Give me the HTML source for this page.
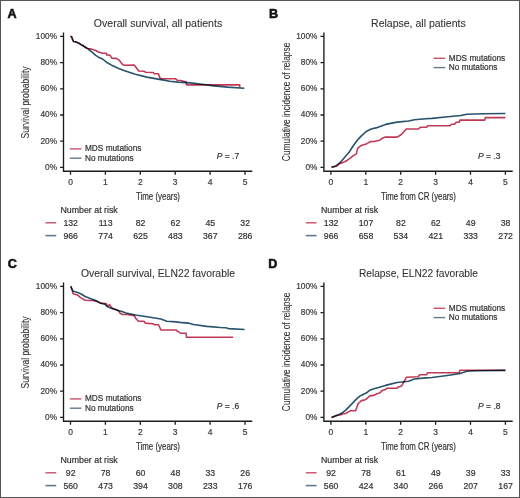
<!DOCTYPE html>
<html><head><meta charset="utf-8"><style>
html,body{margin:0;padding:0;background:#fff;}
svg{display:block;font-family:"Liberation Sans", sans-serif;}

</style></head><body>
<svg width="520" height="498" viewBox="0 0 520 498">
<rect x="0" y="0" width="520" height="498" fill="#fff"/>
<g transform="translate(0,0)">
<text x="7.6" y="17.9" font-size="12.6" font-weight="bold" fill="#111" stroke="#111" stroke-width="0.55">A</text>
<text x="158.00" y="27.10" font-size="10.5" text-anchor="middle" textLength="128.40" lengthAdjust="spacingAndGlyphs" fill="#333" stroke="#333" stroke-width="0.08">Overall survival, all patients</text>
<path d="M63.5 32.6 V171.2 H252.3" fill="none" stroke="#1c1c1c" stroke-width="1.35"/>
<path d="M60.10 167.40H63.5M70.50 171.2V174.80M60.10 141.20H63.5M105.40 171.2V174.80M60.10 115.00H63.5M140.30 171.2V174.80M60.10 88.80H63.5M175.20 171.2V174.80M60.10 62.60H63.5M210.10 171.2V174.80M60.10 36.40H63.5M245.00 171.2V174.80" stroke="#1c1c1c" stroke-width="1.3" fill="none"/>
<text x="57.00" y="169.75" font-size="8.9" text-anchor="end" textLength="11.96" lengthAdjust="spacingAndGlyphs" fill="#3a3a3a" stroke="#3a3a3a" stroke-width="0.2">0%</text>
<text x="57.00" y="143.55" font-size="8.9" text-anchor="end" textLength="16.57" lengthAdjust="spacingAndGlyphs" fill="#3a3a3a" stroke="#3a3a3a" stroke-width="0.2">20%</text>
<text x="57.00" y="117.35" font-size="8.9" text-anchor="end" textLength="16.57" lengthAdjust="spacingAndGlyphs" fill="#3a3a3a" stroke="#3a3a3a" stroke-width="0.2">40%</text>
<text x="57.00" y="91.15" font-size="8.9" text-anchor="end" textLength="16.57" lengthAdjust="spacingAndGlyphs" fill="#3a3a3a" stroke="#3a3a3a" stroke-width="0.2">60%</text>
<text x="57.00" y="64.95" font-size="8.9" text-anchor="end" textLength="16.57" lengthAdjust="spacingAndGlyphs" fill="#3a3a3a" stroke="#3a3a3a" stroke-width="0.2">80%</text>
<text x="57.00" y="38.75" font-size="8.9" text-anchor="end" textLength="21.17" lengthAdjust="spacingAndGlyphs" fill="#3a3a3a" stroke="#3a3a3a" stroke-width="0.2">100%</text>
<text x="70.50" y="185.30" font-size="8.9" text-anchor="middle" textLength="4.70" lengthAdjust="spacingAndGlyphs" fill="#3a3a3a" stroke="#3a3a3a" stroke-width="0.2">0</text>
<text x="105.40" y="185.30" font-size="8.9" text-anchor="middle" textLength="4.70" lengthAdjust="spacingAndGlyphs" fill="#3a3a3a" stroke="#3a3a3a" stroke-width="0.2">1</text>
<text x="140.30" y="185.30" font-size="8.9" text-anchor="middle" textLength="4.70" lengthAdjust="spacingAndGlyphs" fill="#3a3a3a" stroke="#3a3a3a" stroke-width="0.2">2</text>
<text x="175.20" y="185.30" font-size="8.9" text-anchor="middle" textLength="4.70" lengthAdjust="spacingAndGlyphs" fill="#3a3a3a" stroke="#3a3a3a" stroke-width="0.2">3</text>
<text x="210.10" y="185.30" font-size="8.9" text-anchor="middle" textLength="4.70" lengthAdjust="spacingAndGlyphs" fill="#3a3a3a" stroke="#3a3a3a" stroke-width="0.2">4</text>
<text x="245.00" y="185.30" font-size="8.9" text-anchor="middle" textLength="4.70" lengthAdjust="spacingAndGlyphs" fill="#3a3a3a" stroke="#3a3a3a" stroke-width="0.2">5</text>
<text transform="translate(29.3,102.4) rotate(-90)" x="0" y="0" font-size="11" text-anchor="middle" textLength="72" lengthAdjust="spacingAndGlyphs" fill="#333" stroke="#333" stroke-width="0.1">Survival probability</text>
<text x="158.00" y="199.80" font-size="10.5" text-anchor="middle" textLength="44.00" lengthAdjust="spacingAndGlyphs" fill="#333" stroke="#333" stroke-width="0.2">Time (years)</text>
<path d="M69.80 148.90h11.6" stroke="#c8506a" stroke-width="1.4"/>
<path d="M69.80 158.20h11.6" stroke="#627a92" stroke-width="1.4"/>
<text x="85.00" y="151.20" font-size="8.3" textLength="56.40" lengthAdjust="spacingAndGlyphs" fill="#333" stroke="#333" stroke-width="0.2">MDS mutations</text>
<text x="85.00" y="160.50" font-size="8.3" textLength="48.60" lengthAdjust="spacingAndGlyphs" fill="#333" stroke="#333" stroke-width="0.2">No mutations</text>
<text x="216.70" y="158.70" font-size="9.4" fill="#333" stroke="#333" stroke-width="0.2" textLength="22.5" lengthAdjust="spacingAndGlyphs"><tspan font-style="italic">P</tspan> = .7</text>
<text x="60.50" y="213.20" font-size="8.6" textLength="57.20" lengthAdjust="spacingAndGlyphs" fill="#333" stroke="#333" stroke-width="0.2">Number at risk</text>
<path d="M45.4 222.8h10.8" stroke="#c8506a" stroke-width="1.4"/>
<path d="M45.4 235.6h10.8" stroke="#627a92" stroke-width="1.6"/>
<text x="70.70" y="225.80" font-size="9.0" text-anchor="middle" textLength="14.56" lengthAdjust="spacingAndGlyphs" fill="#333" stroke="#333" stroke-width="0.2">132</text>
<text x="105.60" y="225.80" font-size="9.0" text-anchor="middle" textLength="13.92" lengthAdjust="spacingAndGlyphs" fill="#333" stroke="#333" stroke-width="0.2">113</text>
<text x="140.50" y="225.80" font-size="9.0" text-anchor="middle" textLength="9.71" lengthAdjust="spacingAndGlyphs" fill="#333" stroke="#333" stroke-width="0.2">82</text>
<text x="175.40" y="225.80" font-size="9.0" text-anchor="middle" textLength="9.71" lengthAdjust="spacingAndGlyphs" fill="#333" stroke="#333" stroke-width="0.2">62</text>
<text x="210.30" y="225.80" font-size="9.0" text-anchor="middle" textLength="9.71" lengthAdjust="spacingAndGlyphs" fill="#333" stroke="#333" stroke-width="0.2">45</text>
<text x="245.20" y="225.80" font-size="9.0" text-anchor="middle" textLength="9.71" lengthAdjust="spacingAndGlyphs" fill="#333" stroke="#333" stroke-width="0.2">32</text>
<text x="70.70" y="238.50" font-size="9.0" text-anchor="middle" textLength="14.56" lengthAdjust="spacingAndGlyphs" fill="#333" stroke="#333" stroke-width="0.2">966</text>
<text x="105.60" y="238.50" font-size="9.0" text-anchor="middle" textLength="14.56" lengthAdjust="spacingAndGlyphs" fill="#333" stroke="#333" stroke-width="0.2">774</text>
<text x="140.50" y="238.50" font-size="9.0" text-anchor="middle" textLength="14.56" lengthAdjust="spacingAndGlyphs" fill="#333" stroke="#333" stroke-width="0.2">625</text>
<text x="175.40" y="238.50" font-size="9.0" text-anchor="middle" textLength="14.56" lengthAdjust="spacingAndGlyphs" fill="#333" stroke="#333" stroke-width="0.2">483</text>
<text x="210.30" y="238.50" font-size="9.0" text-anchor="middle" textLength="14.56" lengthAdjust="spacingAndGlyphs" fill="#333" stroke="#333" stroke-width="0.2">367</text>
<text x="245.20" y="238.50" font-size="9.0" text-anchor="middle" textLength="14.56" lengthAdjust="spacingAndGlyphs" fill="#333" stroke="#333" stroke-width="0.2">286</text>
</g>
<g transform="translate(260.4,0)">
<text x="8.7" y="17.9" font-size="12.6" font-weight="bold" fill="#111" stroke="#111" stroke-width="0.55">B</text>
<text x="158.00" y="27.10" font-size="10.5" text-anchor="middle" textLength="94.70" lengthAdjust="spacingAndGlyphs" fill="#333" stroke="#333" stroke-width="0.08">Relapse, all patients</text>
<path d="M63.5 32.6 V171.2 H252.3" fill="none" stroke="#1c1c1c" stroke-width="1.35"/>
<path d="M60.10 167.40H63.5M70.50 171.2V174.80M60.10 141.20H63.5M105.40 171.2V174.80M60.10 115.00H63.5M140.30 171.2V174.80M60.10 88.80H63.5M175.20 171.2V174.80M60.10 62.60H63.5M210.10 171.2V174.80M60.10 36.40H63.5M245.00 171.2V174.80" stroke="#1c1c1c" stroke-width="1.3" fill="none"/>
<text x="57.00" y="169.75" font-size="8.9" text-anchor="end" textLength="11.96" lengthAdjust="spacingAndGlyphs" fill="#3a3a3a" stroke="#3a3a3a" stroke-width="0.2">0%</text>
<text x="57.00" y="143.55" font-size="8.9" text-anchor="end" textLength="16.57" lengthAdjust="spacingAndGlyphs" fill="#3a3a3a" stroke="#3a3a3a" stroke-width="0.2">20%</text>
<text x="57.00" y="117.35" font-size="8.9" text-anchor="end" textLength="16.57" lengthAdjust="spacingAndGlyphs" fill="#3a3a3a" stroke="#3a3a3a" stroke-width="0.2">40%</text>
<text x="57.00" y="91.15" font-size="8.9" text-anchor="end" textLength="16.57" lengthAdjust="spacingAndGlyphs" fill="#3a3a3a" stroke="#3a3a3a" stroke-width="0.2">60%</text>
<text x="57.00" y="64.95" font-size="8.9" text-anchor="end" textLength="16.57" lengthAdjust="spacingAndGlyphs" fill="#3a3a3a" stroke="#3a3a3a" stroke-width="0.2">80%</text>
<text x="57.00" y="38.75" font-size="8.9" text-anchor="end" textLength="21.17" lengthAdjust="spacingAndGlyphs" fill="#3a3a3a" stroke="#3a3a3a" stroke-width="0.2">100%</text>
<text x="70.50" y="185.30" font-size="8.9" text-anchor="middle" textLength="4.70" lengthAdjust="spacingAndGlyphs" fill="#3a3a3a" stroke="#3a3a3a" stroke-width="0.2">0</text>
<text x="105.40" y="185.30" font-size="8.9" text-anchor="middle" textLength="4.70" lengthAdjust="spacingAndGlyphs" fill="#3a3a3a" stroke="#3a3a3a" stroke-width="0.2">1</text>
<text x="140.30" y="185.30" font-size="8.9" text-anchor="middle" textLength="4.70" lengthAdjust="spacingAndGlyphs" fill="#3a3a3a" stroke="#3a3a3a" stroke-width="0.2">2</text>
<text x="175.20" y="185.30" font-size="8.9" text-anchor="middle" textLength="4.70" lengthAdjust="spacingAndGlyphs" fill="#3a3a3a" stroke="#3a3a3a" stroke-width="0.2">3</text>
<text x="210.10" y="185.30" font-size="8.9" text-anchor="middle" textLength="4.70" lengthAdjust="spacingAndGlyphs" fill="#3a3a3a" stroke="#3a3a3a" stroke-width="0.2">4</text>
<text x="245.00" y="185.30" font-size="8.9" text-anchor="middle" textLength="4.70" lengthAdjust="spacingAndGlyphs" fill="#3a3a3a" stroke="#3a3a3a" stroke-width="0.2">5</text>
<text transform="translate(29.4,101.9) rotate(-90)" x="0" y="0" font-size="11" text-anchor="middle" textLength="118.5" lengthAdjust="spacingAndGlyphs" fill="#333" stroke="#333" stroke-width="0.1">Cumulative incidence of relapse</text>
<text x="158.00" y="199.80" font-size="10.5" text-anchor="middle" textLength="75.00" lengthAdjust="spacingAndGlyphs" fill="#333" stroke="#333" stroke-width="0.2">Time from CR (years)</text>
<path d="M173.20 58.30h11.6" stroke="#c8506a" stroke-width="1.4"/>
<path d="M173.20 67.60h11.6" stroke="#627a92" stroke-width="1.4"/>
<text x="188.40" y="60.60" font-size="8.3" textLength="56.40" lengthAdjust="spacingAndGlyphs" fill="#333" stroke="#333" stroke-width="0.2">MDS mutations</text>
<text x="188.40" y="69.90" font-size="8.3" textLength="48.60" lengthAdjust="spacingAndGlyphs" fill="#333" stroke="#333" stroke-width="0.2">No mutations</text>
<text x="217.60" y="158.70" font-size="9.4" fill="#333" stroke="#333" stroke-width="0.2" textLength="22.5" lengthAdjust="spacingAndGlyphs"><tspan font-style="italic">P</tspan> = .3</text>
<text x="60.50" y="213.20" font-size="8.6" textLength="57.20" lengthAdjust="spacingAndGlyphs" fill="#333" stroke="#333" stroke-width="0.2">Number at risk</text>
<path d="M45.4 222.8h10.8" stroke="#c8506a" stroke-width="1.4"/>
<path d="M45.4 235.6h10.8" stroke="#627a92" stroke-width="1.6"/>
<text x="70.70" y="225.80" font-size="9.0" text-anchor="middle" textLength="14.56" lengthAdjust="spacingAndGlyphs" fill="#333" stroke="#333" stroke-width="0.2">132</text>
<text x="105.60" y="225.80" font-size="9.0" text-anchor="middle" textLength="14.56" lengthAdjust="spacingAndGlyphs" fill="#333" stroke="#333" stroke-width="0.2">107</text>
<text x="140.50" y="225.80" font-size="9.0" text-anchor="middle" textLength="9.71" lengthAdjust="spacingAndGlyphs" fill="#333" stroke="#333" stroke-width="0.2">82</text>
<text x="175.40" y="225.80" font-size="9.0" text-anchor="middle" textLength="9.71" lengthAdjust="spacingAndGlyphs" fill="#333" stroke="#333" stroke-width="0.2">62</text>
<text x="210.30" y="225.80" font-size="9.0" text-anchor="middle" textLength="9.71" lengthAdjust="spacingAndGlyphs" fill="#333" stroke="#333" stroke-width="0.2">49</text>
<text x="245.20" y="225.80" font-size="9.0" text-anchor="middle" textLength="9.71" lengthAdjust="spacingAndGlyphs" fill="#333" stroke="#333" stroke-width="0.2">38</text>
<text x="70.70" y="238.50" font-size="9.0" text-anchor="middle" textLength="14.56" lengthAdjust="spacingAndGlyphs" fill="#333" stroke="#333" stroke-width="0.2">966</text>
<text x="105.60" y="238.50" font-size="9.0" text-anchor="middle" textLength="14.56" lengthAdjust="spacingAndGlyphs" fill="#333" stroke="#333" stroke-width="0.2">658</text>
<text x="140.50" y="238.50" font-size="9.0" text-anchor="middle" textLength="14.56" lengthAdjust="spacingAndGlyphs" fill="#333" stroke="#333" stroke-width="0.2">534</text>
<text x="175.40" y="238.50" font-size="9.0" text-anchor="middle" textLength="14.56" lengthAdjust="spacingAndGlyphs" fill="#333" stroke="#333" stroke-width="0.2">421</text>
<text x="210.30" y="238.50" font-size="9.0" text-anchor="middle" textLength="14.56" lengthAdjust="spacingAndGlyphs" fill="#333" stroke="#333" stroke-width="0.2">333</text>
<text x="245.20" y="238.50" font-size="9.0" text-anchor="middle" textLength="14.56" lengthAdjust="spacingAndGlyphs" fill="#333" stroke="#333" stroke-width="0.2">272</text>
</g>
<g transform="translate(0,250)">
<text x="7.8" y="17.9" font-size="12.6" font-weight="bold" fill="#111" stroke="#111" stroke-width="0.55">C</text>
<text x="158.00" y="27.10" font-size="10.5" text-anchor="middle" textLength="154.00" lengthAdjust="spacingAndGlyphs" fill="#333" stroke="#333" stroke-width="0.08">Overall survival, ELN22 favorable</text>
<path d="M63.5 32.6 V171.2 H252.3" fill="none" stroke="#1c1c1c" stroke-width="1.35"/>
<path d="M60.10 167.40H63.5M70.50 171.2V174.80M60.10 141.20H63.5M105.40 171.2V174.80M60.10 115.00H63.5M140.30 171.2V174.80M60.10 88.80H63.5M175.20 171.2V174.80M60.10 62.60H63.5M210.10 171.2V174.80M60.10 36.40H63.5M245.00 171.2V174.80" stroke="#1c1c1c" stroke-width="1.3" fill="none"/>
<text x="57.00" y="169.75" font-size="8.9" text-anchor="end" textLength="11.96" lengthAdjust="spacingAndGlyphs" fill="#3a3a3a" stroke="#3a3a3a" stroke-width="0.2">0%</text>
<text x="57.00" y="143.55" font-size="8.9" text-anchor="end" textLength="16.57" lengthAdjust="spacingAndGlyphs" fill="#3a3a3a" stroke="#3a3a3a" stroke-width="0.2">20%</text>
<text x="57.00" y="117.35" font-size="8.9" text-anchor="end" textLength="16.57" lengthAdjust="spacingAndGlyphs" fill="#3a3a3a" stroke="#3a3a3a" stroke-width="0.2">40%</text>
<text x="57.00" y="91.15" font-size="8.9" text-anchor="end" textLength="16.57" lengthAdjust="spacingAndGlyphs" fill="#3a3a3a" stroke="#3a3a3a" stroke-width="0.2">60%</text>
<text x="57.00" y="64.95" font-size="8.9" text-anchor="end" textLength="16.57" lengthAdjust="spacingAndGlyphs" fill="#3a3a3a" stroke="#3a3a3a" stroke-width="0.2">80%</text>
<text x="57.00" y="38.75" font-size="8.9" text-anchor="end" textLength="21.17" lengthAdjust="spacingAndGlyphs" fill="#3a3a3a" stroke="#3a3a3a" stroke-width="0.2">100%</text>
<text x="70.50" y="185.30" font-size="8.9" text-anchor="middle" textLength="4.70" lengthAdjust="spacingAndGlyphs" fill="#3a3a3a" stroke="#3a3a3a" stroke-width="0.2">0</text>
<text x="105.40" y="185.30" font-size="8.9" text-anchor="middle" textLength="4.70" lengthAdjust="spacingAndGlyphs" fill="#3a3a3a" stroke="#3a3a3a" stroke-width="0.2">1</text>
<text x="140.30" y="185.30" font-size="8.9" text-anchor="middle" textLength="4.70" lengthAdjust="spacingAndGlyphs" fill="#3a3a3a" stroke="#3a3a3a" stroke-width="0.2">2</text>
<text x="175.20" y="185.30" font-size="8.9" text-anchor="middle" textLength="4.70" lengthAdjust="spacingAndGlyphs" fill="#3a3a3a" stroke="#3a3a3a" stroke-width="0.2">3</text>
<text x="210.10" y="185.30" font-size="8.9" text-anchor="middle" textLength="4.70" lengthAdjust="spacingAndGlyphs" fill="#3a3a3a" stroke="#3a3a3a" stroke-width="0.2">4</text>
<text x="245.00" y="185.30" font-size="8.9" text-anchor="middle" textLength="4.70" lengthAdjust="spacingAndGlyphs" fill="#3a3a3a" stroke="#3a3a3a" stroke-width="0.2">5</text>
<text transform="translate(29.3,102.4) rotate(-90)" x="0" y="0" font-size="11" text-anchor="middle" textLength="72" lengthAdjust="spacingAndGlyphs" fill="#333" stroke="#333" stroke-width="0.1">Survival probability</text>
<text x="158.00" y="199.80" font-size="10.5" text-anchor="middle" textLength="44.00" lengthAdjust="spacingAndGlyphs" fill="#333" stroke="#333" stroke-width="0.2">Time (years)</text>
<path d="M69.80 148.90h11.6" stroke="#c8506a" stroke-width="1.4"/>
<path d="M69.80 158.20h11.6" stroke="#627a92" stroke-width="1.4"/>
<text x="85.00" y="151.20" font-size="8.3" textLength="56.40" lengthAdjust="spacingAndGlyphs" fill="#333" stroke="#333" stroke-width="0.2">MDS mutations</text>
<text x="85.00" y="160.50" font-size="8.3" textLength="48.60" lengthAdjust="spacingAndGlyphs" fill="#333" stroke="#333" stroke-width="0.2">No mutations</text>
<text x="216.70" y="158.70" font-size="9.4" fill="#333" stroke="#333" stroke-width="0.2" textLength="22.5" lengthAdjust="spacingAndGlyphs"><tspan font-style="italic">P</tspan> = .6</text>
<text x="60.50" y="213.20" font-size="8.6" textLength="57.20" lengthAdjust="spacingAndGlyphs" fill="#333" stroke="#333" stroke-width="0.2">Number at risk</text>
<path d="M45.4 222.8h10.8" stroke="#c8506a" stroke-width="1.4"/>
<path d="M45.4 235.6h10.8" stroke="#627a92" stroke-width="1.6"/>
<text x="70.70" y="225.80" font-size="9.0" text-anchor="middle" textLength="9.71" lengthAdjust="spacingAndGlyphs" fill="#333" stroke="#333" stroke-width="0.2">92</text>
<text x="105.60" y="225.80" font-size="9.0" text-anchor="middle" textLength="9.71" lengthAdjust="spacingAndGlyphs" fill="#333" stroke="#333" stroke-width="0.2">78</text>
<text x="140.50" y="225.80" font-size="9.0" text-anchor="middle" textLength="9.71" lengthAdjust="spacingAndGlyphs" fill="#333" stroke="#333" stroke-width="0.2">60</text>
<text x="175.40" y="225.80" font-size="9.0" text-anchor="middle" textLength="9.71" lengthAdjust="spacingAndGlyphs" fill="#333" stroke="#333" stroke-width="0.2">48</text>
<text x="210.30" y="225.80" font-size="9.0" text-anchor="middle" textLength="9.71" lengthAdjust="spacingAndGlyphs" fill="#333" stroke="#333" stroke-width="0.2">33</text>
<text x="245.20" y="225.80" font-size="9.0" text-anchor="middle" textLength="9.71" lengthAdjust="spacingAndGlyphs" fill="#333" stroke="#333" stroke-width="0.2">26</text>
<text x="70.70" y="238.50" font-size="9.0" text-anchor="middle" textLength="14.56" lengthAdjust="spacingAndGlyphs" fill="#333" stroke="#333" stroke-width="0.2">560</text>
<text x="105.60" y="238.50" font-size="9.0" text-anchor="middle" textLength="14.56" lengthAdjust="spacingAndGlyphs" fill="#333" stroke="#333" stroke-width="0.2">473</text>
<text x="140.50" y="238.50" font-size="9.0" text-anchor="middle" textLength="14.56" lengthAdjust="spacingAndGlyphs" fill="#333" stroke="#333" stroke-width="0.2">394</text>
<text x="175.40" y="238.50" font-size="9.0" text-anchor="middle" textLength="14.56" lengthAdjust="spacingAndGlyphs" fill="#333" stroke="#333" stroke-width="0.2">308</text>
<text x="210.30" y="238.50" font-size="9.0" text-anchor="middle" textLength="14.56" lengthAdjust="spacingAndGlyphs" fill="#333" stroke="#333" stroke-width="0.2">233</text>
<text x="245.20" y="238.50" font-size="9.0" text-anchor="middle" textLength="14.56" lengthAdjust="spacingAndGlyphs" fill="#333" stroke="#333" stroke-width="0.2">176</text>
</g>
<g transform="translate(260.4,250)">
<text x="7.8" y="17.9" font-size="12.6" font-weight="bold" fill="#111" stroke="#111" stroke-width="0.55">D</text>
<text x="158.00" y="27.10" font-size="10.5" text-anchor="middle" textLength="119.00" lengthAdjust="spacingAndGlyphs" fill="#333" stroke="#333" stroke-width="0.08">Relapse, ELN22 favorable</text>
<path d="M63.5 32.6 V171.2 H252.3" fill="none" stroke="#1c1c1c" stroke-width="1.35"/>
<path d="M60.10 167.40H63.5M70.50 171.2V174.80M60.10 141.20H63.5M105.40 171.2V174.80M60.10 115.00H63.5M140.30 171.2V174.80M60.10 88.80H63.5M175.20 171.2V174.80M60.10 62.60H63.5M210.10 171.2V174.80M60.10 36.40H63.5M245.00 171.2V174.80" stroke="#1c1c1c" stroke-width="1.3" fill="none"/>
<text x="57.00" y="169.75" font-size="8.9" text-anchor="end" textLength="11.96" lengthAdjust="spacingAndGlyphs" fill="#3a3a3a" stroke="#3a3a3a" stroke-width="0.2">0%</text>
<text x="57.00" y="143.55" font-size="8.9" text-anchor="end" textLength="16.57" lengthAdjust="spacingAndGlyphs" fill="#3a3a3a" stroke="#3a3a3a" stroke-width="0.2">20%</text>
<text x="57.00" y="117.35" font-size="8.9" text-anchor="end" textLength="16.57" lengthAdjust="spacingAndGlyphs" fill="#3a3a3a" stroke="#3a3a3a" stroke-width="0.2">40%</text>
<text x="57.00" y="91.15" font-size="8.9" text-anchor="end" textLength="16.57" lengthAdjust="spacingAndGlyphs" fill="#3a3a3a" stroke="#3a3a3a" stroke-width="0.2">60%</text>
<text x="57.00" y="64.95" font-size="8.9" text-anchor="end" textLength="16.57" lengthAdjust="spacingAndGlyphs" fill="#3a3a3a" stroke="#3a3a3a" stroke-width="0.2">80%</text>
<text x="57.00" y="38.75" font-size="8.9" text-anchor="end" textLength="21.17" lengthAdjust="spacingAndGlyphs" fill="#3a3a3a" stroke="#3a3a3a" stroke-width="0.2">100%</text>
<text x="70.50" y="185.30" font-size="8.9" text-anchor="middle" textLength="4.70" lengthAdjust="spacingAndGlyphs" fill="#3a3a3a" stroke="#3a3a3a" stroke-width="0.2">0</text>
<text x="105.40" y="185.30" font-size="8.9" text-anchor="middle" textLength="4.70" lengthAdjust="spacingAndGlyphs" fill="#3a3a3a" stroke="#3a3a3a" stroke-width="0.2">1</text>
<text x="140.30" y="185.30" font-size="8.9" text-anchor="middle" textLength="4.70" lengthAdjust="spacingAndGlyphs" fill="#3a3a3a" stroke="#3a3a3a" stroke-width="0.2">2</text>
<text x="175.20" y="185.30" font-size="8.9" text-anchor="middle" textLength="4.70" lengthAdjust="spacingAndGlyphs" fill="#3a3a3a" stroke="#3a3a3a" stroke-width="0.2">3</text>
<text x="210.10" y="185.30" font-size="8.9" text-anchor="middle" textLength="4.70" lengthAdjust="spacingAndGlyphs" fill="#3a3a3a" stroke="#3a3a3a" stroke-width="0.2">4</text>
<text x="245.00" y="185.30" font-size="8.9" text-anchor="middle" textLength="4.70" lengthAdjust="spacingAndGlyphs" fill="#3a3a3a" stroke="#3a3a3a" stroke-width="0.2">5</text>
<text transform="translate(29.4,101.9) rotate(-90)" x="0" y="0" font-size="11" text-anchor="middle" textLength="118.5" lengthAdjust="spacingAndGlyphs" fill="#333" stroke="#333" stroke-width="0.1">Cumulative incidence of relapse</text>
<text x="158.00" y="199.80" font-size="10.5" text-anchor="middle" textLength="75.00" lengthAdjust="spacingAndGlyphs" fill="#333" stroke="#333" stroke-width="0.2">Time from CR (years)</text>
<path d="M173.20 58.30h11.6" stroke="#c8506a" stroke-width="1.4"/>
<path d="M173.20 67.60h11.6" stroke="#627a92" stroke-width="1.4"/>
<text x="188.40" y="60.60" font-size="8.3" textLength="56.40" lengthAdjust="spacingAndGlyphs" fill="#333" stroke="#333" stroke-width="0.2">MDS mutations</text>
<text x="188.40" y="69.90" font-size="8.3" textLength="48.60" lengthAdjust="spacingAndGlyphs" fill="#333" stroke="#333" stroke-width="0.2">No mutations</text>
<text x="217.60" y="158.70" font-size="9.4" fill="#333" stroke="#333" stroke-width="0.2" textLength="22.5" lengthAdjust="spacingAndGlyphs"><tspan font-style="italic">P</tspan> = .8</text>
<text x="60.50" y="213.20" font-size="8.6" textLength="57.20" lengthAdjust="spacingAndGlyphs" fill="#333" stroke="#333" stroke-width="0.2">Number at risk</text>
<path d="M45.4 222.8h10.8" stroke="#c8506a" stroke-width="1.4"/>
<path d="M45.4 235.6h10.8" stroke="#627a92" stroke-width="1.6"/>
<text x="70.70" y="225.80" font-size="9.0" text-anchor="middle" textLength="9.71" lengthAdjust="spacingAndGlyphs" fill="#333" stroke="#333" stroke-width="0.2">92</text>
<text x="105.60" y="225.80" font-size="9.0" text-anchor="middle" textLength="9.71" lengthAdjust="spacingAndGlyphs" fill="#333" stroke="#333" stroke-width="0.2">78</text>
<text x="140.50" y="225.80" font-size="9.0" text-anchor="middle" textLength="9.71" lengthAdjust="spacingAndGlyphs" fill="#333" stroke="#333" stroke-width="0.2">61</text>
<text x="175.40" y="225.80" font-size="9.0" text-anchor="middle" textLength="9.71" lengthAdjust="spacingAndGlyphs" fill="#333" stroke="#333" stroke-width="0.2">49</text>
<text x="210.30" y="225.80" font-size="9.0" text-anchor="middle" textLength="9.71" lengthAdjust="spacingAndGlyphs" fill="#333" stroke="#333" stroke-width="0.2">39</text>
<text x="245.20" y="225.80" font-size="9.0" text-anchor="middle" textLength="9.71" lengthAdjust="spacingAndGlyphs" fill="#333" stroke="#333" stroke-width="0.2">33</text>
<text x="70.70" y="238.50" font-size="9.0" text-anchor="middle" textLength="14.56" lengthAdjust="spacingAndGlyphs" fill="#333" stroke="#333" stroke-width="0.2">560</text>
<text x="105.60" y="238.50" font-size="9.0" text-anchor="middle" textLength="14.56" lengthAdjust="spacingAndGlyphs" fill="#333" stroke="#333" stroke-width="0.2">424</text>
<text x="140.50" y="238.50" font-size="9.0" text-anchor="middle" textLength="14.56" lengthAdjust="spacingAndGlyphs" fill="#333" stroke="#333" stroke-width="0.2">340</text>
<text x="175.40" y="238.50" font-size="9.0" text-anchor="middle" textLength="14.56" lengthAdjust="spacingAndGlyphs" fill="#333" stroke="#333" stroke-width="0.2">266</text>
<text x="210.30" y="238.50" font-size="9.0" text-anchor="middle" textLength="14.56" lengthAdjust="spacingAndGlyphs" fill="#333" stroke="#333" stroke-width="0.2">207</text>
<text x="245.20" y="238.50" font-size="9.0" text-anchor="middle" textLength="14.56" lengthAdjust="spacingAndGlyphs" fill="#333" stroke="#333" stroke-width="0.2">167</text>
</g>
<path d="M70.5 36.3 L71.7 36.9 L72.3 38.8 L73.5 41.5 L75.4 41.8 L77.2 42.5 L79.4 43.4 L80.9 44.6 L82.8 45.5 L84.6 46.8 L86.5 48.0 L88.3 48.9 L90.8 48.9 L92.6 49.5 L95.7 50.5 L98.5 52.0 L101.9 53.1 L106.3 53.3 L106.8 54.9 L110.0 55.2 L111.7 58.1 L116.3 58.4 L119.2 60.1 L120.4 61.8 L122.7 64.7 L125.0 65.2 L134.2 65.1 L136.5 67.9 L138.8 71.0 L144.0 71.3 L145.7 72.2 L153.2 72.5 L154.3 73.7 L158.4 73.7 L160.1 78.3 L162.4 78.8 L175.7 78.8 L177.4 80.3 L180.8 80.5 L186.2 82.0 L186.5 84.9 L239.7 84.9 L239.7 87.3" fill="none" stroke="#c03a57" stroke-width="1.6" stroke-linejoin="round" stroke-linecap="butt" style="mix-blend-mode:multiply"/>
<path d="M70.5 36.3 L71.7 36.9 L72.3 38.8 L73.5 41.5 L75.4 41.8 L77.2 42.5 L79.4 43.4 L80.9 44.6 L82.8 45.5 L84.6 46.8 L86.5 48.0 L88.3 48.9 L89.5 50.2 L91.4 51.7 L93.2 53.2 L95.7 55.3 L98.5 57.2 L102.5 59.0 L106.5 62.2 L112.3 65.6 L118.1 68.3 L123.9 70.5 L135.3 74.2 L146.8 77.1 L159.5 79.4 L169.9 81.2 L178.0 82.1 L190.4 82.9 L198.0 83.9 L205.8 84.8 L212.0 85.6 L227.4 87.1 L244.3 88.2" fill="none" stroke="#28536c" stroke-width="1.6" stroke-linejoin="round" stroke-linecap="butt" style="mix-blend-mode:multiply"/>
<path d="M331.5 167.2 L336.4 166.3 L339.6 163.7 L342.1 162.7 L344.7 161.8 L347.3 160.2 L350.5 157.9 L353.7 155.4 L356.3 154.1 L357.6 148.3 L360.0 146.4 L361.1 145.6 L366.2 144.1 L370.2 141.6 L374.0 141.5 L379.8 140.2 L382.1 138.3 L385.5 137.1 L397.1 137.1 L401.1 134.8 L406.3 129.0 L418.4 129.0 L420.2 127.3 L426.5 127.3 L427.7 125.7 L450.0 125.7 L451.5 124.2 L454.6 124.2 L456.2 122.2 L459.2 122.2 L460.0 120.1 L484.6 120.1 L485.4 117.6 L505.4 117.6" fill="none" stroke="#c03a57" stroke-width="1.6" stroke-linejoin="round" stroke-linecap="butt" style="mix-blend-mode:multiply"/>
<path d="M331.5 167.2 L335.7 166.0 L340.9 161.8 L345.4 156.6 L349.2 152.1 L352.4 147.0 L355.6 142.5 L358.8 138.6 L361.1 136.1 L366.2 131.5 L371.2 129.0 L376.0 127.9 L385.5 124.4 L397.1 122.1 L408.6 121.0 L414.4 119.8 L425.9 118.7 L432.0 118.4 L445.4 117.0 L460.8 115.5 L466.9 114.2 L483.8 113.8 L505.4 113.5" fill="none" stroke="#28536c" stroke-width="1.6" stroke-linejoin="round" stroke-linecap="butt" style="mix-blend-mode:multiply"/>
<path d="M70.8 286.3 L72.6 291.0 L72.9 293.2 L73.5 294.0 L76.6 294.6 L78.5 295.8 L80.3 297.4 L82.2 298.6 L85.2 300.2 L88.9 300.5 L92.6 300.5 L95.7 301.1 L100.6 303.1 L104.7 303.5 L106.1 303.6 L107.0 305.6 L108.5 305.6 L109.6 304.6 L110.7 306.7 L112.7 308.4 L116.2 309.6 L119.1 311.3 L120.2 313.3 L122.5 314.5 L127.5 314.5 L134.4 315.6 L135.5 317.9 L138.4 321.3 L144.2 321.3 L145.3 323.1 L152.8 323.7 L154.6 324.8 L158.6 324.8 L160.9 330.0 L175.9 330.0 L178.2 331.7 L180.5 333.2 L186.1 333.2 L186.5 337.3 L233.2 337.3" fill="none" stroke="#c03a57" stroke-width="1.6" stroke-linejoin="round" stroke-linecap="butt" style="mix-blend-mode:multiply"/>
<path d="M70.8 286.3 L72.6 290.9 L73.5 291.2 L77.8 292.5 L81.5 294.3 L85.2 296.5 L89.5 298.3 L93.8 299.8 L96.9 301.1 L100.0 302.9 L102.9 303.7 L104.7 304.1 L107.5 306.7 L113.3 309.0 L119.1 310.7 L122.0 311.6 L126.0 313.0 L135.5 315.0 L147.1 316.7 L160.9 319.0 L166.7 321.3 L175.9 321.9 L180.0 322.4 L188.1 323.1 L193.5 324.5 L206.9 326.4 L220.4 327.5 L225.8 327.8 L228.5 328.6 L244.6 329.5" fill="none" stroke="#28536c" stroke-width="1.6" stroke-linejoin="round" stroke-linecap="butt" style="mix-blend-mode:multiply"/>
<path d="M331.5 417.4 L337.6 415.3 L340.9 414.7 L342.8 413.7 L346.0 413.4 L347.9 412.1 L350.5 410.8 L355.6 410.8 L356.9 407.3 L358.2 403.4 L360.0 402.1 L361.1 400.6 L364.2 400.1 L366.2 399.1 L370.2 395.6 L373.2 395.6 L374.0 395.2 L377.5 393.5 L379.8 392.9 L382.1 390.6 L385.5 389.4 L386.7 388.3 L397.1 388.3 L398.2 387.1 L401.7 386.0 L406.3 377.3 L418.4 376.7 L419.6 374.8 L426.5 374.8 L427.7 372.7 L459.2 372.7 L460.0 370.3 L505.4 370.3" fill="none" stroke="#c03a57" stroke-width="1.6" stroke-linejoin="round" stroke-linecap="butt" style="mix-blend-mode:multiply"/>
<path d="M331.5 417.4 L335.1 416.0 L339.6 414.3 L342.8 412.4 L346.0 409.9 L349.2 406.6 L352.4 403.4 L355.6 399.9 L359.5 396.4 L361.1 395.4 L366.2 393.1 L369.2 390.6 L373.2 389.1 L385.5 385.4 L397.1 382.5 L408.6 381.3 L414.4 379.0 L425.9 377.9 L432.0 377.5 L445.4 375.8 L459.2 373.8 L466.9 371.2 L476.2 370.7 L505.4 370.4" fill="none" stroke="#28536c" stroke-width="1.6" stroke-linejoin="round" stroke-linecap="butt" style="mix-blend-mode:multiply"/>
<rect x="0.5" y="0.5" width="519" height="497" fill="none" stroke="#555" stroke-width="1"/>
</svg>
</body></html>
